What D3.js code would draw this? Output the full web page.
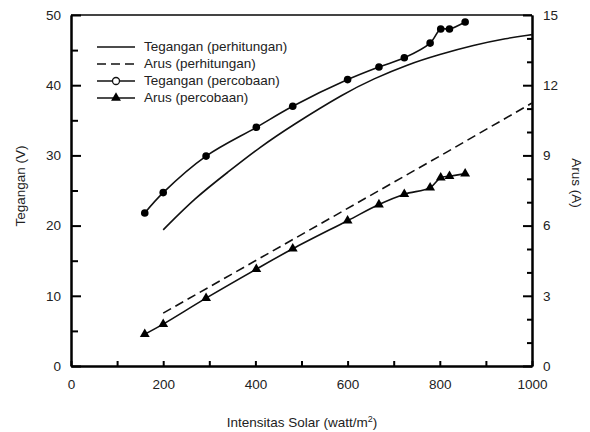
<!DOCTYPE html>
<html>
<head>
<meta charset="utf-8">
<script src="https://cdn.jsdelivr.net/npm/d3@7/dist/d3.min.js"></script>
<style>
  html, body { margin: 0; padding: 0; background: #fff; }
  svg { display: block; font-family: "Liberation Sans", Arial, sans-serif; }
</style>
</head>
<body>
<svg id="chart" width="590" height="432"></svg>
<script>
// Measured points (percobaan)
const intensitas = [160, 200, 293, 402, 481, 600, 668, 723, 779, 802, 821, 855];
const teganganPercobaan = [21.8, 24.7, 29.9, 34.0, 37.0, 40.8, 42.6, 43.9, 46.0, 48.0, 48.0, 49.0];
const arusPercobaan = [1.36, 1.79, 2.90, 4.14, 5.01, 6.21, 6.90, 7.34, 7.62, 8.05, 8.11, 8.22];

// Calculated curves (perhitungan)
const intensitasTeganganHitung = [200, 270, 340, 410, 480, 594, 656, 728, 800, 873, 945, 1000];
const teganganHitung = [19.4, 24.0, 27.6, 31.2, 34.3, 38.9, 40.9, 42.9, 44.4, 45.7, 46.7, 47.2];
const intensitasArusHitung = [200, 815, 1000];
const arusHitung = [2.26, 9.14, 11.24];

// Axis ticks
const xTicks = [0, 200, 400, 600, 800, 1000];
const xMinorTicks = [100, 300, 500, 700, 900];
const yLeftTicks = [0, 10, 20, 30, 40, 50];
const yLeftMinorTicks = [5, 15, 25, 35, 45];
const yRightTicks = [0, 3, 6, 9, 12, 15];
const yRightMinorTicks = [1, 2, 4, 5, 7, 8, 10, 11, 13, 14];

const legendLabels = ["Tegangan (perhitungan)", "Arus (perhitungan)", "Tegangan (percobaan)", "Arus (percobaan)"];

const svg = d3.select("#chart");
const L = 71, R = 532, T = 15, B = 366;
const FS = 13.5;

const x = d3.scaleLinear().domain([0, 1000]).range([L, R]);
const yL = d3.scaleLinear().domain([0, 50]).range([B, T]);
const yR = d3.scaleLinear().domain([0, 15]).range([B, T]);

// top frame line
svg.append("line")
  .attr("x1", L).attr("x2", R).attr("y1", T).attr("y2", T)
  .attr("stroke", "#444").attr("stroke-width", 2);

function styleAxis(g) {
  g.selectAll("path.domain").attr("stroke", "#000").attr("stroke-width", 2);
  g.selectAll(".tick line").attr("stroke", "#000").attr("stroke-width", 2);
  g.selectAll("text").attr("font-size", FS).attr("fill", "#222")
    .attr("font-family", "'Liberation Sans', Arial, sans-serif");
}

// bottom axis
const gx = svg.append("g").attr("transform", `translate(0,${B})`)
  .call(d3.axisBottom(x).tickValues(xTicks).tickSize(-5).tickSizeOuter(0).tickPadding(13).tickFormat(d3.format("d")));
styleAxis(gx);
const gxm = svg.append("g").attr("transform", `translate(0,${B})`)
  .call(d3.axisBottom(x).tickValues(xMinorTicks).tickSize(-5).tickSizeOuter(0).tickFormat(""));
styleAxis(gxm);

// left axis
const gl = svg.append("g").attr("transform", `translate(${L},0)`)
  .call(d3.axisLeft(yL).tickValues(yLeftTicks).tickSize(-10).tickSizeOuter(0).tickPadding(10).tickFormat(d3.format("d")));
styleAxis(gl);
const glm = svg.append("g").attr("transform", `translate(${L},0)`)
  .call(d3.axisLeft(yL).tickValues(yLeftMinorTicks).tickSize(-7).tickSizeOuter(0).tickFormat(""));
styleAxis(glm);

// right axis
const gr = svg.append("g").attr("transform", `translate(${R},0)`)
  .call(d3.axisRight(yR).tickValues(yRightTicks).tickSize(-9).tickSizeOuter(0).tickPadding(11).tickFormat(d3.format("d")));
styleAxis(gr);
const grm = svg.append("g").attr("transform", `translate(${R},0)`)
  .call(d3.axisRight(yR).tickValues(yRightMinorTicks).tickSize(-5).tickSizeOuter(0).tickFormat(""));
styleAxis(grm);

// axis titles
svg.append("text")
  .attr("transform", `translate(21,186) rotate(-90)`)
  .attr("text-anchor", "middle").attr("dominant-baseline", "middle")
  .attr("font-size", FS).attr("fill", "#222").text("Tegangan (V)");
svg.append("text")
  .attr("transform", `translate(576,183) rotate(90)`)
  .attr("text-anchor", "middle").attr("dominant-baseline", "middle")
  .attr("font-size", FS).attr("fill", "#222").text("Arus (A)");
const xt = svg.append("text")
  .attr("x", 302).attr("y", 427)
  .attr("text-anchor", "middle")
  .attr("font-size", FS).attr("fill", "#222");
xt.append("tspan").text("Intensitas Solar (watt/m");
xt.append("tspan").attr("font-size", 9).attr("dy", -5).text("2");
xt.append("tspan").attr("dy", 5).text(")");

// lines
const lineTeganganHitung = d3.line()
  .x((d, i) => x(intensitasTeganganHitung[i])).y(d => yL(d))
  .curve(d3.curveBasis);
svg.append("path").attr("d", lineTeganganHitung(teganganHitung))
  .attr("fill", "none").attr("stroke", "#111").attr("stroke-width", 1.6);

const lineArusHitung = d3.line()
  .x((d, i) => x(intensitasArusHitung[i])).y(d => yR(d));
svg.append("path").attr("d", lineArusHitung(arusHitung))
  .attr("fill", "none").attr("stroke", "#111").attr("stroke-width", 1.6)
  .attr("stroke-dasharray", "9,5");

const lineTegangan = d3.line()
  .x((d, i) => x(intensitas[i])).y(d => yL(d))
  .curve(d3.curveCatmullRom.alpha(0.5));
svg.append("path").attr("d", lineTegangan(teganganPercobaan))
  .attr("fill", "none").attr("stroke", "#111").attr("stroke-width", 1.6);

const lineArus = d3.line()
  .x((d, i) => x(intensitas[i])).y(d => yR(d))
  .curve(d3.curveCatmullRom.alpha(0.5));
svg.append("path").attr("d", lineArus(arusPercobaan))
  .attr("fill", "none").attr("stroke", "#111").attr("stroke-width", 1.6);

// markers
svg.append("g").selectAll("circle").data(teganganPercobaan).join("circle")
  .attr("cx", (d, i) => x(intensitas[i])).attr("cy", d => yL(d))
  .attr("r", 3.8).attr("fill", "#000");

const tri = d3.symbol().type(d3.symbolTriangle).size(42);
svg.append("g").selectAll("path").data(arusPercobaan).join("path")
  .attr("d", tri)
  .attr("transform", (d, i) => `translate(${x(intensitas[i])},${yR(d)})`)
  .attr("fill", "#000");

// legend
const legendY = [47, 64, 81, 98];
const lg = svg.append("g");
legendLabels.forEach((lab, i) => {
  const y = legendY[i];
  lg.append("line").attr("x1", 97).attr("x2", 135).attr("y1", y).attr("y2", y)
    .attr("stroke", "#111").attr("stroke-width", 1.6)
    .attr("stroke-dasharray", i === 1 ? "9,5" : null);
  if (i === 2) {
    lg.append("circle").attr("cx", 116).attr("cy", y).attr("r", 3.5)
      .attr("fill", "#fff").attr("stroke", "#111").attr("stroke-width", 1.3);
  }
  if (i === 3) {
    lg.append("path").attr("d", tri).attr("transform", `translate(116,${y})`).attr("fill", "#000");
  }
  lg.append("text").attr("x", 144).attr("y", y).attr("dominant-baseline", "middle")
    .attr("font-size", FS).attr("fill", "#222").text(lab);
});
</script>
</body>
</html>
